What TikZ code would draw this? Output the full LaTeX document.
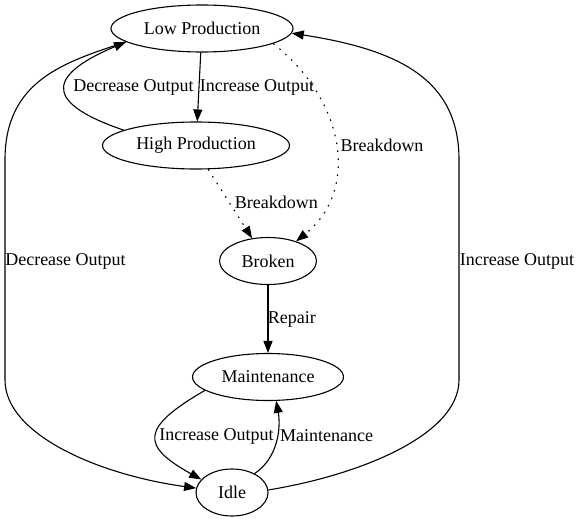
\documentclass[tikz,border=0pt]{standalone}
\usepackage{fontspec}
\setmainfont{Liberation Serif}
\usetikzlibrary{shapes.geometric,arrows.meta}
\begin{document}
\begin{tikzpicture}[x=1bp,y=-1bp,
  state/.style={ellipse,draw,line width=1.1bp,inner sep=0pt,minimum height=47bp,font=\fontsize{18bp}{22bp}\selectfont},
  lbl/.style={inner sep=0pt,font=\fontsize{18bp}{22bp}\selectfont},
  edge/.style={line width=1.1bp,-{Triangle[length=12bp,width=9bp]}},
  dotedge/.style={edge,dash pattern=on 1.6bp off 6.4bp}]
\fill[white] (0,0) rectangle (580,523);
\useasboundingbox (0,0) rectangle (580,523);
\node[state,minimum width=182bp] (low) at (202,28.5) {Low Production};
\node[state,minimum width=187bp] (high) at (196,145.5) {High Production};
\node[state,minimum width=97bp] (broken) at (268,261) {Broken};
\node[state,minimum width=151bp] (maint) at (268,377) {Maintenance};
\node[state,minimum width=72bp] (idle) at (232,492.5) {Idle};
% edge labels
\node[lbl] (l1) at (257,87.5) {Increase Output};
\node[lbl] (l2) at (133.5,87.5) {Decrease Output};
\node[lbl] (l3) at (382,145.5) {Breakdown};
\node[lbl] (l4) at (276.3,202.5) {Breakdown};
\node[lbl] (l5) at (291.8,319) {Repair};
\node[lbl] (l6) at (216.5,436) {Increase Output};
\node[lbl] (l7) at (326.5,435.5) {Maintenance};
\node[lbl] (l8) at (65.5,261) {Decrease Output};
\node[lbl] (l9) at (517,261) {Increase Output};
% edges
\draw[edge] (low) -- (high);
\draw[edge] (high.168) .. controls (35,100) and (55,72) .. (low.190);
\draw[dotedge] (low.-12) .. controls (345,100) and (360,190) .. (broken.35);
\draw[dotedge] (high.-63) -- (broken.125);
\draw[edge] (broken) -- (maint);
\draw[edge] (maint.192) .. controls (140,428) and (141,446) .. (idle.157);
\draw[edge] (idle.40) .. controls (278,458) and (281,428) .. (maint.289);
\draw[edge] (low.190) .. controls (65,62) and (5,80) .. (5,160) -- (5,380) .. controls (5,435) and (100,475) .. (idle.173);
\draw[edge] (idle.4) .. controls (360,475) and (459,435) .. (459,380) -- (459,160) .. controls (459,80) and (400,50) .. (low.-3);
\end{tikzpicture}
\end{document}
